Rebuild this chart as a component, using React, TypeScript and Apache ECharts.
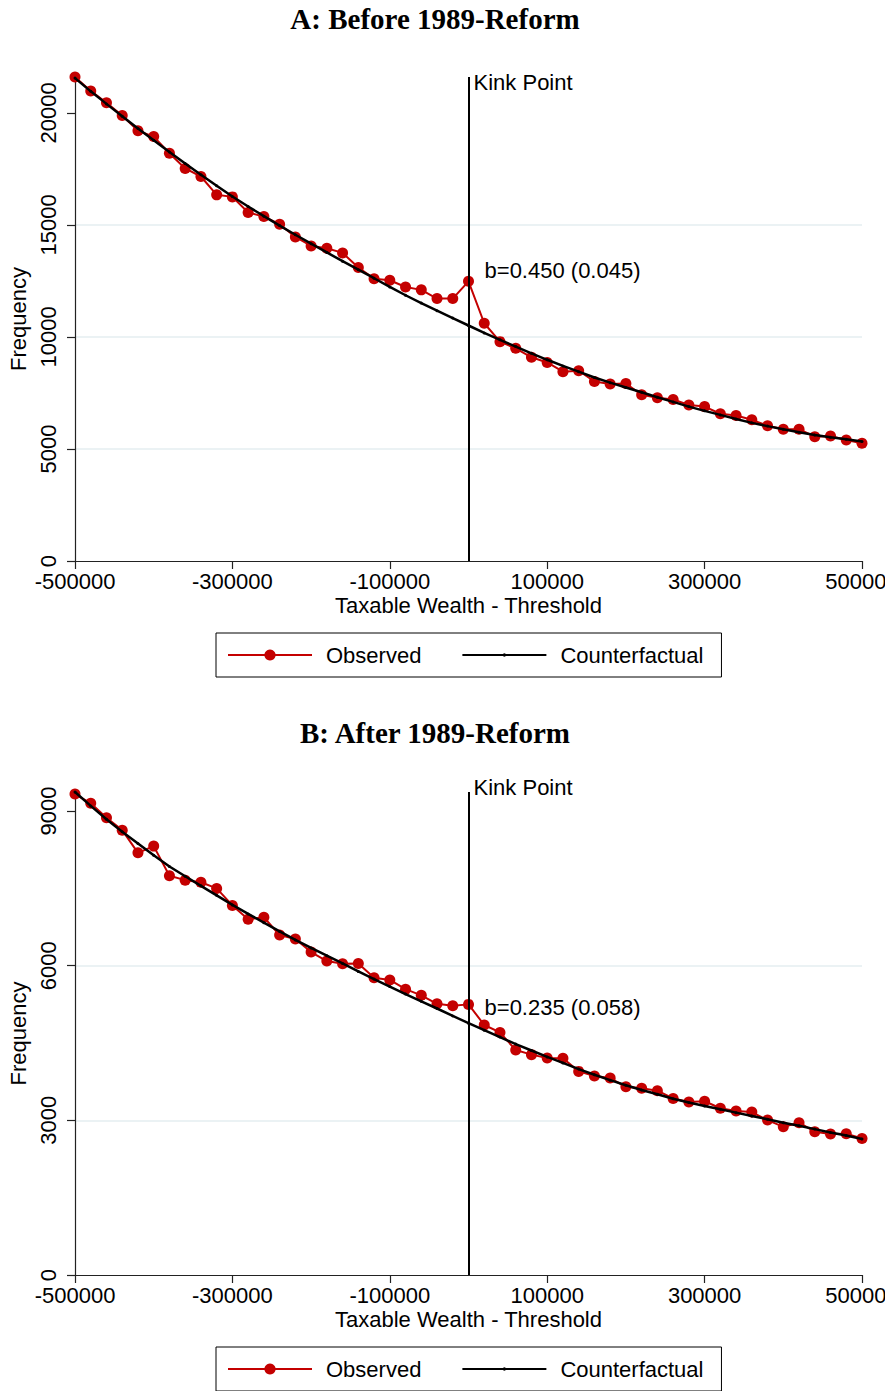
import React, { useEffect, useRef } from "react";
import * as echarts from "echarts";

// ---------- data ----------
const xBins = [
  -500000, -480000, -460000, -440000, -420000, -400000, -380000, -360000, -340000, -320000,
  -300000, -280000, -260000, -240000, -220000, -200000, -180000, -160000, -140000, -120000,
  -100000, -80000, -60000, -40000, -20000, 0, 20000, 40000, 60000, 80000,
  100000, 120000, 140000, 160000, 180000, 200000, 220000, 240000, 260000, 280000,
  300000, 320000, 340000, 360000, 380000, 400000, 420000, 440000, 460000, 480000, 500000,
];

const observedA = [
  21600, 20980, 20450, 19880, 19200, 18940, 18200, 17520, 17160, 16340,
  16250, 15550, 15370, 15030, 14460, 14060, 13960, 13750, 13100, 12600,
  12530, 12230, 12100, 11710, 11710, 12480, 10610, 9790, 9490, 9090,
  8860, 8450, 8490, 8010, 7900, 7920, 7420, 7290, 7210, 6960,
  6890, 6570, 6490, 6300, 6040, 5880, 5880, 5550, 5580, 5400, 5250,
];

const counterfactualA = [
  21550, 20960, 20400, 19850, 19300, 18780, 18250, 17740, 17240, 16750,
  16270, 15820, 15390, 14970, 14560, 14160, 13770, 13380, 13000, 12620,
  12230, 11860, 11510, 11170, 10840, 10510, 10180, 9870, 9570, 9270,
  8980, 8705, 8450, 8190, 7960, 7740, 7530, 7310, 7100, 6890,
  6700, 6520, 6340, 6165, 6020, 5880, 5745, 5625, 5520, 5430, 5330,
];

const observedB = [
  9330, 9150, 8870, 8630, 8190, 8320, 7745, 7660, 7620, 7500,
  7170, 6900, 6940, 6595, 6520, 6265, 6090, 6040, 6045, 5765,
  5725, 5545, 5425, 5260, 5225, 5250, 4850, 4705, 4365, 4275,
  4210, 4205, 3950, 3860, 3820, 3650, 3625, 3575, 3425, 3355,
  3370, 3235, 3180, 3160, 3005, 2875, 2955, 2780, 2735, 2740, 2650,
];

const counterfactualB = [
  9370, 9100, 8840, 8600, 8370, 8145, 7925, 7735, 7550, 7365,
  7180, 7005, 6835, 6665, 6500, 6345, 6195, 6045, 5890, 5740,
  5595, 5450, 5310, 5170, 5025, 4885, 4750, 4615, 4480, 4355,
  4230, 4115, 3995, 3885, 3780, 3680, 3590, 3505, 3420, 3345,
  3280, 3215, 3150, 3085, 3020, 2955, 2895, 2830, 2765, 2705, 2640,
];

const xTickValues = [-500000, -300000, -100000, 100000, 300000, 500000];
const yTickValuesA = [0, 5000, 10000, 15000, 20000];
const yTickValuesB = [0, 3000, 6000, 9000];
const yMax = [21600, 9370];
const yInterval = [5000, 3000];
const kinkX = 0;
const panelTitles = ["A: Before 1989-Reform", "B: After 1989-Reform"];
const bLabels = ["b=0.450 (0.045)", "b=0.235 (0.058)"];
const bLabelY = [12970, 5180];
const kinkLabelY = [21360, 9370];
const kinkLabelOffset = [0, -5];
const seriesNames = ["Observed", "Counterfactual"];

// ---------- styles ----------
const RED = "#c40000";
const SANS = "'Liberation Sans', Arial, sans-serif";
const SERIF = "'Liberation Serif', 'Times New Roman', serif";
const FS = 22;
const AXIS_COLOR = "#222";
const GRID_COLOR = "#e5eef1";
const TINY_DOT = "path://M0,0M10,10M3.5,5A1.5,1.5,0,1,0,6.5,5A1.5,1.5,0,1,0,3.5,5Z";

const pair = (ys: number[]) => xBins.map((x, i) => [x, ys[i]]);
const plain = (v: number) => String(v);

export default function App() {
  const ref = useRef<HTMLDivElement>(null);

  useEffect(() => {
    if (!ref.current) return;
    const chart = echarts.init(ref.current, null, { renderer: "svg" });

    const grids = [
      { left: 75, top: 77, width: 787, height: 484, outerBoundsMode: "none", containLabel: false },
      { left: 75, top: 792, width: 787, height: 483, outerBoundsMode: "none", containLabel: false },
    ];
    const panelOffset = [0, 714];
    const yTicks = [yTickValuesA, yTickValuesB];
    const obs = [observedA, observedB];
    const cf = [counterfactualA, counterfactualB];

    const xAxes = [0, 1].map((i) => ({
      type: "value",
      gridIndex: i,
      min: -500000,
      max: 500000,
      axisLine: { show: true, onZero: false, lineStyle: { color: AXIS_COLOR, width: 1.2 } },
      axisTick: { show: true, length: 8, customValues: xTickValues, lineStyle: { color: AXIS_COLOR, width: 1.2 } },
      axisLabel: { customValues: xTickValues, formatter: plain, fontSize: FS, color: "#000", fontFamily: SANS, margin: 9, hideOverlap: false },
      splitLine: { show: false },
      name: "Taxable Wealth - Threshold",
      nameLocation: "middle",
      nameGap: 33,
      nameTextStyle: { fontSize: FS, color: "#000", fontFamily: SANS },
    }));

    const yAxes = [0, 1].map((i) => ({
      type: "value",
      gridIndex: i,
      min: 0,
      max: yMax[i],
      interval: yInterval[i],
      axisLine: { show: true, onZero: false, lineStyle: { color: AXIS_COLOR, width: 1.2 } },
      axisTick: { show: true, length: 8, customValues: yTicks[i], lineStyle: { color: AXIS_COLOR, width: 1.2 } },
      axisLabel: { customValues: yTicks[i], formatter: plain, rotate: 90, fontSize: FS, color: "#000", fontFamily: SANS, margin: 16 },
      splitLine: { show: true, showMinLine: false, showMaxLine: false, lineStyle: { color: GRID_COLOR, width: 1.5 } },
      name: "Frequency",
      nameLocation: "middle",
      nameGap: 40,
      nameTextStyle: { fontSize: FS, color: "#000", fontFamily: SANS },
    }));

    const series: any[] = [];
    [0, 1].forEach((i) => {
      series.push({
        name: seriesNames[0],
        type: "line",
        xAxisIndex: i,
        yAxisIndex: i,
        data: pair(obs[i]),
        symbol: "circle",
        symbolSize: 11,
        showSymbol: true,
        itemStyle: { color: RED },
        lineStyle: { color: RED, width: 2 },
        z: 2,
        markLine: {
          silent: true,
          symbol: ["none", "none"],
          label: { show: false },
          lineStyle: { color: "#000", width: 2, type: "solid" },
          data: [{ xAxis: kinkX }],
          z: 4,
        },
        markPoint: {
          silent: true,
          symbol: "circle",
          symbolSize: 0.1,
          itemStyle: { color: "rgba(0,0,0,0)" },
          data: [
            {
              coord: [kinkX, kinkLabelY[i]],
              label: {
                show: true,
                position: "right",
                distance: 5,
                offset: [0, kinkLabelOffset[i]],
                formatter: "Kink Point",
                fontSize: FS,
                color: "#000",
                fontFamily: SANS,
              },
            },
            {
              coord: [kinkX, bLabelY[i]],
              label: {
                show: true,
                position: "right",
                distance: 16,
                formatter: bLabels[i],
                fontSize: FS,
                color: "#000",
                fontFamily: SANS,
              },
            },
          ],
        },
      });
      series.push({
        name: seriesNames[1],
        type: "line",
        xAxisIndex: i,
        yAxisIndex: i,
        data: pair(cf[i]),
        symbol: TINY_DOT,
        symbolSize: 10,
        showSymbol: true,
        itemStyle: { color: "#000" },
        lineStyle: { color: "#000", width: 2.5 },
        z: 3,
      });
    });

    const legends = [0, 1].map((i) => ({
      data: seriesNames,
      left: 216,
      top: 633 + panelOffset[i],
      orient: "horizontal",
      borderColor: "#000",
      borderWidth: 1,
      borderRadius: 0,
      padding: [11, 18, 11, 11],
      itemGap: 40,
      itemWidth: 84,
      itemHeight: 14,
      selectedMode: false,
      textStyle: { fontSize: FS, color: "#000", fontFamily: SANS, padding: [0, 0, 0, 9] },
    }));

    const graphics = [0, 1].map((i) => ({
      type: "text",
      x: 435,
      y: 19 + panelOffset[i],
      style: {
        text: panelTitles[i],
        align: "center",
        verticalAlign: "middle",
        font: `bold 29px ${SERIF}`,
        fill: "#000",
      },
    }));

    chart.setOption({
      animation: false,
      backgroundColor: "#fff",
      textStyle: { fontFamily: SANS },
      grid: grids,
      xAxis: xAxes,
      yAxis: yAxes,
      legend: legends,
      series,
      graphic: graphics,
    });

    return () => chart.dispose();
  }, []);

  return (
    <div
      ref={ref}
      style={{ position: "absolute", left: 0, top: 0, width: 885, height: 1391, background: "#fff" }}
    />
  );
}
